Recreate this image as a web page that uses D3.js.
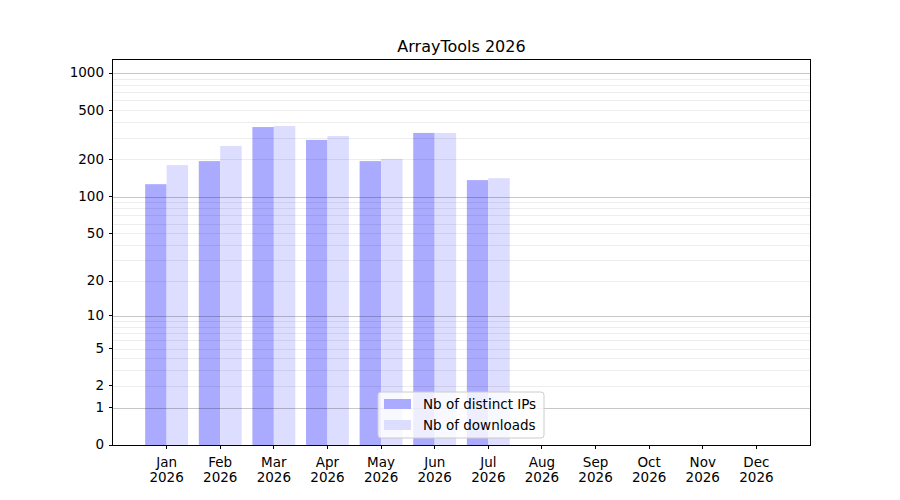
<!DOCTYPE html>
<html>
<head>
<meta charset="utf-8">
<script src="https://cdn.jsdelivr.net/npm/d3@7"></script>
<style>
  body { margin: 0; background: #fff; }
  text { font-family: "DejaVu Sans", sans-serif; fill: #000; }
</style>
</head>
<body>
<div id="chart"></div>
<script>
// data
var months = ["Jan", "Feb", "Mar", "Apr", "May", "Jun", "Jul", "Aug", "Sep", "Oct", "Nov", "Dec"];
var year = "2026";
var distinctIPs = [126, 194, 366, 288, 194, 328, 136];
var downloads = [180, 257, 373, 310, 202, 328, 141];
var yTicks = [0, 1, 2, 5, 10, 20, 50, 100, 200, 500, 1000];

var svgWidth = 900, svgHeight = 500;
var margin = { top: 60, right: 90, bottom: 55, left: 113 };
var width = svgWidth - margin.left - margin.right;
var height = svgHeight - margin.top - margin.bottom;

var svg = d3.select("#chart").append("svg")
  .attr("width", svgWidth)
  .attr("height", svgHeight);

var g = svg.append("g")
  .attr("transform", `translate(${margin.left}, ${margin.top})`);

var x = d3.scaleLinear().domain([-1, 12]).range([0, width]);
var y = d3.scaleSymlog().constant(1).domain([0, 1274]).range([height, 0]);
var barW = 0.4 * (x(1) - x(0));

// bars
g.selectAll(".ip").data(distinctIPs).enter().append("rect")
  .attr("x", (d, i) => x(i) - barW)
  .attr("y", d => y(d))
  .attr("width", barW)
  .attr("height", d => height - y(d))
  .attr("fill", "#aaaaff");

g.selectAll(".dl").data(downloads).enter().append("rect")
  .attr("x", (d, i) => x(i))
  .attr("y", d => y(d))
  .attr("width", barW)
  .attr("height", d => height - y(d))
  .attr("fill", "#ddddff");

// grid lines (minor then major)
var minor = [];
[1, 10, 100].forEach(function (p) {
  for (var k = 2; k <= 9; k++) minor.push(k * p);
});
g.selectAll(".minor").data(minor).enter().append("line")
  .attr("x1", 0).attr("x2", width)
  .attr("y1", d => Math.round(y(d)) + 0.5).attr("y2", d => Math.round(y(d)) + 0.5)
  .attr("stroke", "#000").attr("stroke-opacity", 0.07);

g.selectAll(".major").data([1, 10, 100, 1000]).enter().append("line")
  .attr("x1", 0).attr("x2", width)
  .attr("y1", d => Math.round(y(d)) + 0.5).attr("y2", d => Math.round(y(d)) + 0.5)
  .attr("stroke", "#000").attr("stroke-opacity", 0.22);

// axes
var yAxis = g.append("g")
  .call(d3.axisLeft(y).tickValues(yTicks).tickFormat(d3.format("d")).tickSize(4).tickPadding(5).offset(0));
var xAxis = g.append("g")
  .attr("transform", `translate(0, ${height})`)
  .call(d3.axisBottom(x).tickValues(d3.range(12)).tickFormat("").tickSize(4).offset(0));

[yAxis, xAxis].forEach(function (a) {
  a.select(".domain").remove();
  a.selectAll("line").attr("stroke", "#000").attr("stroke-width", 1).attr("shape-rendering", "crispEdges");
  a.selectAll("text").style("font-size", "13.5px").attr("fill", "#000");
});

xAxis.selectAll(".tick").append("text")
  .attr("y", 22).attr("text-anchor", "middle").style("font-size", "13.5px")
  .attr("fill", "#000").text((d, i) => months[i]);
xAxis.selectAll(".tick").append("text")
  .attr("y", 37).attr("text-anchor", "middle").style("font-size", "13.5px")
  .attr("fill", "#000").text(year);

// frame
g.append("rect")
  .attr("x", -0.5).attr("y", -0.5).attr("width", width + 1).attr("height", height + 1)
  .attr("fill", "none").attr("stroke", "#000").attr("stroke-width", 1)
  .attr("shape-rendering", "crispEdges");

// title
svg.append("text")
  .attr("x", margin.left + width / 2).attr("y", 52)
  .attr("text-anchor", "middle").style("font-size", "16px")
  .text("ArrayTools " + year);

// legend
var legend = g.append("g").attr("transform", `translate(${378 - margin.left}, ${392 - margin.top})`);
legend.append("rect")
  .attr("width", 166).attr("height", 46).attr("rx", 3)
  .attr("fill", "#fff").attr("fill-opacity", 0.8)
  .attr("stroke", "#cccccc");
var items = [["Nb of distinct IPs", "#aaaaff"], ["Nb of downloads", "#ddddff"]];
items.forEach(function (it, i) {
  legend.append("rect")
    .attr("x", 6).attr("y", 7 + i * 21).attr("width", 27).attr("height", 10)
    .attr("fill", it[1]);
  legend.append("text")
    .attr("x", 45).attr("y", 17 + i * 21)
    .style("font-size", "13.5px").text(it[0]);
});
</script>
</body>
</html>
